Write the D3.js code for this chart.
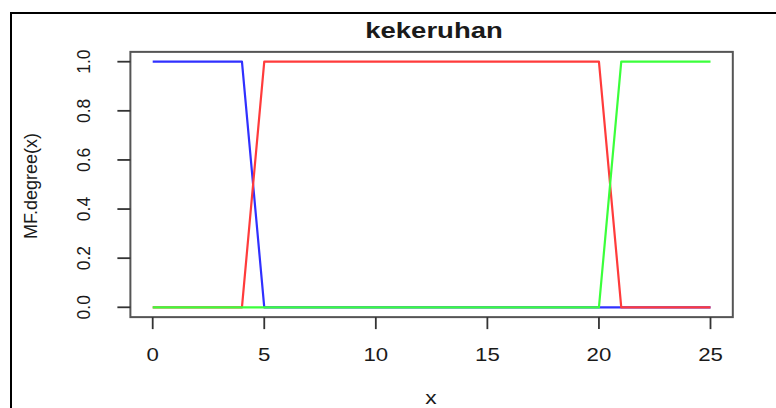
<!DOCTYPE html>
<html>
<head>
<meta charset="utf-8">
<script src="https://cdn.jsdelivr.net/npm/d3@7.9.0/dist/d3.min.js"></script>
<style>
  body { margin: 0; background: #fff; }
  text { font-family: "Liberation Sans", Arial, sans-serif; fill: #1a1a1a; }
</style>
</head>
<body>
<div id="chart"></div>
<script>
// membership functions for "kekeruhan"
const xs = [0, 4, 5, 20, 21, 25];
const lowDeg = [1, 1, 0, 0, 0, 0];   // blue
const midDeg = [0, 0, 1, 1, 0, 0];   // red
const highDeg = [0, 0, 0, 0, 1, 1];  // green
const xTicks = [0, 5, 10, 15, 20, 25];
const yTicks = [0, 0.2, 0.4, 0.6, 0.8, 1.0];

const width = 776;
const height = 408;

const svg = d3.select('#chart')
    .append('svg')
    .attr('width', width)
    .attr('height', height);

// outer frame of the screenshot
svg.append('rect')
    .attr('x', 11).attr('y', 13)
    .attr('width', 800).attr('height', 500)
    .attr('fill', 'none')
    .attr('stroke', '#000')
    .attr('stroke-width', 2);

const xScale = d3.scaleLinear().domain([0, 25]).range([152.7, 710.5]);
const yScale = d3.scaleLinear().domain([0, 1]).range([307.3, 61.7]);

// R-style 4% expanded plot region
const box = {
    left: xScale(-1), right: xScale(26),
    top: yScale(1.04), bottom: yScale(-0.04)
};

const series = [
    { vals: lowDeg, color: '#3030ff' },
    { vals: midDeg, color: '#ff3b3b' },
    { vals: highDeg, color: '#3bff3b' }
];

const line = d3.line()
    .x(d => xScale(d[0]))
    .y(d => yScale(d[1]));

series.forEach(s => {
    svg.append('path')
        .datum(xs.map((x, i) => [x, s.vals[i]]))
        .attr('d', line)
        .attr('fill', 'none')
        .attr('stroke', s.color)
        .attr('stroke-width', 2.2)
        .attr('stroke-linejoin', 'round');
});

// plot box
svg.append('rect')
    .attr('x', box.left).attr('y', box.top)
    .attr('width', box.right - box.left)
    .attr('height', box.bottom - box.top)
    .attr('fill', 'none')
    .attr('stroke', '#555')
    .attr('stroke-width', 2);

// x axis ticks
svg.selectAll('line.xtick')
    .data(xTicks)
    .join('line')
    .attr('class', 'xtick')
    .attr('x1', d => xScale(d)).attr('x2', d => xScale(d))
    .attr('y1', box.bottom).attr('y2', box.bottom + 12)
    .attr('stroke', '#333')
    .attr('stroke-width', 1.8);

svg.selectAll('text.xlab')
    .data(xTicks)
    .join('text')
    .attr('class', 'xlab')
    .attr('text-anchor', 'middle')
    .attr('transform', d => `translate(${xScale(d)}, 361) scale(1.17, 1)`)
    .style('font-size', '19px')
    .text(d => d);

// y axis ticks
svg.selectAll('line.ytick')
    .data(yTicks)
    .join('line')
    .attr('class', 'ytick')
    .attr('x1', box.left - 13).attr('x2', box.left)
    .attr('y1', d => yScale(d)).attr('y2', d => yScale(d))
    .attr('stroke', '#333')
    .attr('stroke-width', 1.8);

svg.selectAll('text.ylab')
    .data(yTicks)
    .join('text')
    .attr('class', 'ylab')
    .attr('text-anchor', 'middle')
    .attr('transform', d => `translate(90, ${yScale(d)}) rotate(-90)`)
    .style('font-size', '17.5px')
    .text(d => d.toFixed(1));

// title and axis labels
svg.append('text')
    .attr('text-anchor', 'middle')
    .attr('transform', 'translate(434, 38) scale(1.25, 1)')
    .style('font-size', '22px')
    .style('font-weight', 'bold')
    .text('kekeruhan');

svg.append('text')
    .attr('text-anchor', 'middle')
    .attr('transform', `translate(37, 186) rotate(-90)`)
    .style('font-size', '18px')
    .text('MF.degree(x)');

svg.append('text')
    .attr('text-anchor', 'middle')
    .attr('transform', 'translate(431, 404) scale(1.2, 1)')
    .style('font-size', '19px')
    .text('x');
</script>
</body>
</html>
